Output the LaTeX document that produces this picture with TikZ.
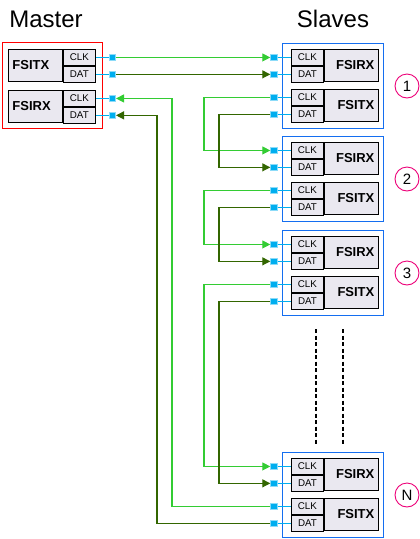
\documentclass[tikz,border=0pt]{standalone}
\usepackage{fontspec}
\setmainfont{Liberation Sans}
\usetikzlibrary{positioning,arrows.meta}
\definecolor{clkgreen}{RGB}{51,204,51}
\definecolor{datgreen}{RGB}{51,102,0}
\definecolor{padcyan}{RGB}{0,174,239}
\definecolor{slaveblue}{RGB}{20,110,240}
\definecolor{cellgray}{RGB}{234,232,240}
\definecolor{numpink}{RGB}{236,0,120}

\begin{document}
\begin{tikzpicture}[x=1pt,y=-1pt,
    cell/.style={draw,fill=cellgray,line width=0.9pt,inner sep=0pt,anchor=north west},
    sig/.style={cell,minimum width=32pt,minimum height=16pt,font=\fontsize{9.8}{9.8}\selectfont},
    mname/.style={cell,minimum height=32pt,text width=46pt,inner xsep=4pt,align=left,font=\fontsize{13}{13}\selectfont\bfseries},
    sname/.style={cell,minimum height=32pt,text width=46pt,inner xsep=4pt,align=right,font=\fontsize{13}{13}\selectfont\bfseries},
    pad/.style={fill=padcyan,draw=padcyan!45,line width=0.7pt,minimum size=6.5pt,inner sep=0pt},
    padline/.style={padcyan,line width=1pt},
    sbox/.style={draw=slaveblue,line width=1.1pt,minimum width=101pt,minimum height=85pt,inner sep=0pt,anchor=north west},
    clkwire/.style={clkgreen,line width=1.1pt,-{Triangle[length=8pt,width=8pt]}},
    datwire/.style={datgreen,line width=1.1pt,-{Triangle[length=8pt,width=8pt]}},
    num/.style={circle,draw=numpink,line width=0.9pt,minimum size=24pt,inner sep=0pt,font=\fontsize{15}{15}\selectfont},
    gap/.style={line width=1.2pt,dash pattern=on 4pt off 2.5pt}]
    \useasboundingbox (0,0) rectangle (420,539);

    \node[font=\fontsize{24}{24}\selectfont] (mtitle) at (46,19) {Master};
    \node[font=\fontsize{24}{24}\selectfont] (stitle) at (333,19) {Slaves};

    % master
    \node[draw=red,line width=1.1pt,minimum width=100pt,minimum height=86pt,inner sep=0pt,anchor=north west] (mbox) at (2,42) {};
    \node[mname] (mtx)    at (8,49)             {FSITX};
    \node[sig]   (mtxclk) at (mtx.north east)   {CLK};
    \node[sig]   (mtxdat) at (mtxclk.south west) {DAT};
    \node[mname] (mrx)    at (8,90)             {FSIRX};
    \node[sig]   (mrxclk) at (mrx.north east)   {CLK};
    \node[sig]   (mrxdat) at (mrxclk.south west) {DAT};
    \foreach \p in {mtxclk,mtxdat,mrxclk,mrxdat}{
        \node[pad,right=13pt of \p] (\p p) {};
        \draw[padline] (\p) -- (\p p);
    }

    % slaves
    \foreach \s/\t in {1/43,2/136,3/230,N/452}{
        \node[sbox] (s\s) at (282,\t) {};
        \node[sig]   (s\s-rxclk) at (291,{\t+6})           {CLK};
        \node[sig]   (s\s-rxdat) at (s\s-rxclk.south west) {DAT};
        \node[sname] (s\s-rx)    at (s\s-rxclk.north east) {FSIRX};
        \node[sig]   (s\s-txclk) at (291,{\t+46})          {CLK};
        \node[sig]   (s\s-txdat) at (s\s-txclk.south west) {DAT};
        \node[sname] (s\s-tx)    at (s\s-txclk.north east) {FSITX};
        \foreach \p in {rxclk,rxdat,txclk,txdat}{
            \node[pad,left=13.5pt of s\s-\p] (s\s-\p p) {};
            \draw[padline] (s\s-\p p) -- (s\s-\p);
        }
        \node[num] (n\s) at (407,{\t+43}) {\s};
    }

    \draw[gap] (316,329) -- (316,444);
    \draw[gap] (343,329) -- (343,444);

    % wiring
    \coordinate (clkbus) at (204,0);
    \coordinate (datbus) at (219,0);
    \coordinate (retclk) at (172,0);
    \coordinate (retdat) at (157,0);

    \draw[clkwire] (mtxclkp) -- (s1-rxclkp);
    \draw[datwire] (mtxdatp) -- (s1-rxdatp);
    \foreach \a/\b in {1/2,2/3,3/N}{
        \draw[clkwire] (s\a-txclkp) -- (s\a-txclkp -| clkbus) |- (s\b-rxclkp);
        \draw[datwire] (s\a-txdatp) -- (s\a-txdatp -| datbus) |- (s\b-rxdatp);
    }
    \draw[clkwire] (sN-txclkp) -- (sN-txclkp -| retclk) |- (mrxclkp);
    \draw[datwire] (sN-txdatp) -- (sN-txdatp -| retdat) |- (mrxdatp);
\end{tikzpicture}
\end{document}
